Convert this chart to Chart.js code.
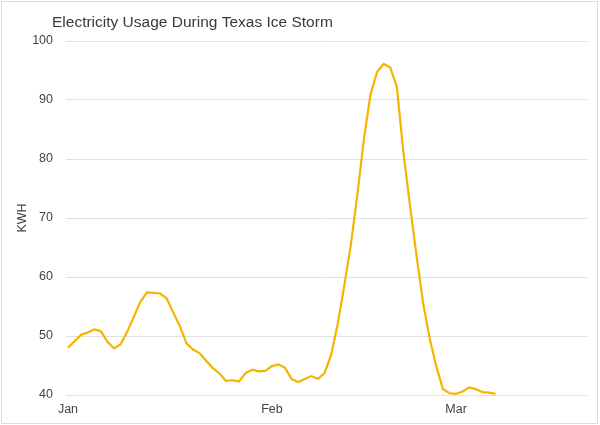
<!DOCTYPE html>
<html>
<head>
<meta charset="utf-8">
<script src="https://cdn.jsdelivr.net/npm/chart.js@4"></script>
<style>
    body { margin: 0; background: #fff; }
    #wrap { position: relative; width: 600px; height: 425px; }
    #frame { position: absolute; left: 1px; top: 1px; width: 595px; height: 421px; border: 1px solid #dcdcdc; pointer-events: none; }
</style>
</head>
<body>
<div id="wrap">
    <canvas id="usage-chart" width="600" height="425"></canvas>
    <div id="frame"></div>
</div>
<script>
// Daily usage, starting Jan 1
const usage = [
    48.0, 49.1, 50.2, 50.6, 51.1, 50.8, 49.0, 47.9, 48.6, 50.7,
    53.2, 55.8, 57.4, 57.3, 57.2, 56.4, 54.0, 51.7, 48.8, 47.7,
    47.1, 45.8, 44.6, 43.7, 42.4, 42.5, 42.3, 43.7, 44.3, 44.0,
    44.1, 44.9, 45.2, 44.6, 42.7, 42.2, 42.7, 43.2, 42.7, 43.7,
    46.8, 52.0, 58.5, 65.5, 74.0, 83.5, 91.0, 94.8, 96.1, 95.5,
    92.2, 81.0, 72.0, 63.5, 55.5, 49.5, 44.8, 41.0, 40.3, 40.2,
    40.6, 41.3, 41.0, 40.5, 40.4, 40.2
];

// Month ticks (day index from Jan 1)
const monthStarts = [0, 31, 59];
const monthLabels = ['Jan', 'Feb', 'Mar'];
const xMin = -0.3;
const xMax = 78.9;

const yTicks = [40, 50, 60, 70, 80, 90, 100];

const FONT = '"Liberation Sans", Arial, sans-serif';

// Title drawn at a fixed spot, left of the plot area
const titlePlugin = {
    id: 'sheetTitle',
    afterDraw(chart) {
        const ctx = chart.ctx;
        ctx.save();
        ctx.font = '15.5px ' + FONT;
        ctx.fillStyle = '#3a3a3a';
        ctx.textBaseline = 'alphabetic';
        ctx.textAlign = 'left';
        ctx.fillText('Electricity Usage During Texas Ice Storm', 52, 27);
        ctx.restore();
    }
};

const ctx = document.getElementById('usage-chart').getContext('2d');
const usageChart = new Chart(ctx, {
    type: 'line',
    data: {
        datasets: [{
            data: usage.map((v, i) => ({ x: i, y: v })),
            borderColor: '#f4b400',
            borderWidth: 2.2,
            pointRadius: 0,
            tension: 0,
            fill: false
        }]
    },
    options: {
        responsive: false,
        animation: false,
        layout: {
            padding: { top: 41, right: 13, bottom: 0, left: 0 }
        },
        plugins: {
            legend: { display: false },
            tooltip: { enabled: false }
        },
        scales: {
            x: {
                type: 'linear',
                min: xMin,
                max: xMax,
                afterBuildTicks: function(scale) {
                    scale.ticks = monthStarts.map(v => ({ value: v }));
                },
                afterFit: function(scale) {
                    scale.height = 30;
                },
                grid: { display: false, drawTicks: false },
                border: { display: false },
                ticks: {
                    autoSkip: false,
                    maxRotation: 0,
                    padding: 7,
                    color: '#444',
                    font: { family: FONT, size: 12.5 },
                    callback: function(value) {
                        const idx = monthStarts.indexOf(value);
                        return idx >= 0 ? monthLabels[idx] : '';
                    }
                }
            },
            y: {
                min: 40,
                max: 100,
                afterBuildTicks: function(scale) {
                    scale.ticks = yTicks.map(v => ({ value: v }));
                },
                afterFit: function(scale) {
                    scale.width = 66;
                },
                grid: { color: '#e0e0e0', lineWidth: 1, drawTicks: false },
                border: { display: false },
                ticks: {
                    padding: 13,
                    color: '#444',
                    font: { family: FONT, size: 12.5 }
                },
                title: {
                    display: true,
                    text: 'KWH',
                    color: '#444',
                    padding: { top: 15, bottom: 0 },
                    font: { family: FONT, size: 12.5 }
                }
            }
        }
    },
    plugins: [titlePlugin]
});
</script>
</body>
</html>
